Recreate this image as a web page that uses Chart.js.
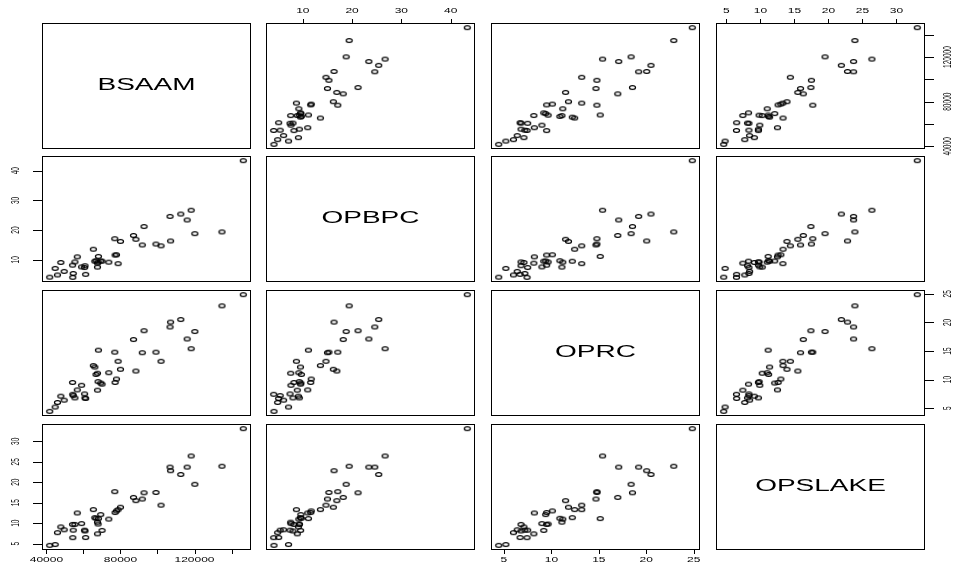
<!DOCTYPE html>
<html>
<head>
<meta charset="utf-8">
<title>pairs</title>
<script src="https://cdn.jsdelivr.net/npm/chart.js@4.4.1/dist/chart.umd.min.js"></script>
<style>
html, body { margin: 0; padding: 0; background: #fff; overflow: hidden; }
#wrap { position: relative; width: 955px; height: 568px; }
#wrap canvas { position: absolute; }
</style>
</head>
<body>
<div id="wrap"></div>
<script>
// water runoff variables, one entry per year
const varNames = ["BSAAM", "OPBPC", "OPRC", "OPSLAKE"];
const bsaam = [54235, 67567, 66161, 68094, 107080, 67594, 65356, 67909, 92715, 70024,
    99190, 146345, 134840, 120180, 118190, 116020, 112580, 106790, 101900, 91770,
    87060, 88330, 80000, 78730, 76920, 77830, 77100, 56650, 69320, 66800,
    73670, 59000, 47780, 49590, 54120, 55390, 54480, 60630, 60810, 45970,
    61180, 41785, 44700];
const opbpc = [4.10, 7.55, 9.52, 11.14, 16.34, 8.88, 13.57, 9.28, 21.20, 9.55,
    15.3, 43.37, 19.4, 18.8, 26.7, 23.4, 25.4, 24.6, 14.7, 15.0,
    18.2, 16.9, 16.2, 8.7, 17.1, 11.7, 11.6, 11.0, 9.6, 9.7,
    9.2, 7.6, 9.1, 6.1, 8.2, 9.3, 5.4, 7.4, 8.0, 4.9,
    5.1, 4.15, 7.1];
const oprc = [7.43, 11.11, 12.20, 15.15, 20.05, 8.15, 12.45, 9.65, 18.55, 9.20,
    14.8, 24.85, 22.9, 18.4, 15.4, 17.1, 20.5, 19.2, 13.2, 14.7,
    17.0, 11.5, 11.8, 13.2, 14.8, 10.1, 9.5, 8.2, 9.4, 10.9,
    11.2, 9.0, 7.1, 6.4, 9.5, 6.8, 7.2, 7.5, 6.8, 6.0,
    6.7, 4.45, 5.2];
const opslake = [6.47, 10.26, 11.35, 11.13, 22.81, 7.41, 13.32, 9.80, 17.42, 8.25,
    17.5, 33.07, 23.9, 19.5, 26.4, 23.7, 21.9, 23.7, 14.4, 15.9,
    16.3, 15.5, 13.9, 13.3, 17.7, 13.0, 12.6, 12.5, 12.1, 11.2,
    11.0, 9.9, 9.1, 8.4, 9.7, 9.7, 8.3, 8.3, 8.1, 7.7,
    6.5, 4.6, 4.8];

// axis ticks and which of them carry a label
const ticksBSAAM = [40000, 60000, 80000, 100000, 120000, 140000];
const labelsBSAAM = [40000, 80000, 120000];
const ticksOPBPC = [10, 20, 30, 40];
const ticksOPRC = [5, 10, 15, 20, 25];
const ticksOPSLAKE = [5, 10, 15, 20, 25, 30];

const columns = [bsaam, opbpc, oprc, opslake];
const tickSets = [ticksBSAAM, ticksOPBPC, ticksOPRC, ticksOPSLAKE];
const labelSets = [labelsBSAAM, ticksOPBPC, ticksOPRC, ticksOPSLAKE];

// panel grid
const colLeft = [42, 266, 491, 716];
const rowTop = [23, 156, 290, 424];
const W = 209, H = 126, PAD = 45;
const SQ = 0.57;
const FONT = '"Liberation Sans", Arial, Helvetica, sans-serif';

function limits(arr){
    const lo = Math.min(...arr), hi = Math.max(...arr), r = hi - lo;
    return [lo - 0.04 * r, hi + 0.04 * r];
}
const lims = columns.map(limits);

// open ring used for every point
const ring = document.createElement('canvas');
ring.width = 9; ring.height = 7;
(function(){
    const c = ring.getContext('2d');
    c.strokeStyle = '#000';
    c.lineWidth = 1.25;
    c.beginPath();
    c.ellipse(4.5, 3.5, 3.0, 1.9, 0, 0, Math.PI * 2);
    c.stroke();
})();

function squashText(ctx, txt, x, y, size, vertical){
    ctx.save();
    ctx.translate(x, y);
    ctx.scale(1, SQ);
    if (vertical) ctx.rotate(-Math.PI / 2);
    ctx.font = size + 'px ' + FONT;
    ctx.textAlign = 'center';
    ctx.textBaseline = 'middle';
    ctx.fillStyle = '#000';
    ctx.fillText(txt, 0, 0);
    ctx.restore();
}

function drawAxis(chart, side, v){
    const ctx = chart.ctx, a = chart.chartArea;
    const horiz = side === 'top' || side === 'bottom';
    const scale = horiz ? chart.scales.x : chart.scales.y;
    ctx.save();
    ctx.strokeStyle = '#000';
    ctx.lineWidth = 1;
    tickSets[v].forEach(t => {
        const p = Math.round(scale.getPixelForValue(t)) + 0.5;
        ctx.beginPath();
        if (side === 'top') { ctx.moveTo(p, a.top); ctx.lineTo(p, a.top - 4); }
        if (side === 'bottom') { ctx.moveTo(p, a.bottom); ctx.lineTo(p, a.bottom + 4); }
        if (side === 'left') { ctx.moveTo(a.left, p); ctx.lineTo(a.left - 9, p); }
        if (side === 'right') { ctx.moveTo(a.right, p); ctx.lineTo(a.right + 9, p); }
        ctx.stroke();
    });
    ctx.restore();
    labelSets[v].forEach(t => {
        const p = scale.getPixelForValue(t);
        if (side === 'top') squashText(ctx, String(t), p, a.top - 12, 12, false);
        if (side === 'bottom') squashText(ctx, String(t), p, a.bottom + 10, 12, false);
        if (side === 'left') squashText(ctx, String(t), a.left - 26, p, 11.5, true);
        if (side === 'right') squashText(ctx, String(t), a.right + 23, p, 11.5, true);
    });
}

function frame(row, col){
    return {
        id: 'frame',
        afterDraw(chart){
            const ctx = chart.ctx, a = chart.chartArea;
            ctx.save();
            ctx.strokeStyle = '#000';
            ctx.lineWidth = 1;
            ctx.strokeRect(a.left + 0.5, a.top + 0.5, a.right - a.left - 1, a.bottom - a.top - 1);
            ctx.restore();
            if (row === col) {
                squashText(ctx, varNames[row], (a.left + a.right) / 2, (a.top + a.bottom) / 2, 28, false);
            }
            if (row === 0 && col % 2 === 1) drawAxis(chart, 'top', col);
            if (row === 3 && col % 2 === 0) drawAxis(chart, 'bottom', col);
            if (col === 0 && row % 2 === 1) drawAxis(chart, 'left', row);
            if (col === 3 && row % 2 === 0) drawAxis(chart, 'right', row);
        }
    };
}

const wrap = document.getElementById('wrap');
for (let row = 0; row < 4; row++) {
    for (let col = 0; col < 4; col++) {
        const cv = document.createElement('canvas');
        cv.width = W + 2 * PAD;
        cv.height = H + 2 * PAD;
        cv.style.left = (colLeft[col] - PAD) + 'px';
        cv.style.top = (rowTop[row] - PAD) + 'px';
        wrap.appendChild(cv);

        const xs = columns[col], ys = columns[row];
        const pts = xs.map((x, k) => ({ x: x, y: ys[k] }));
        const datasets = row === col ? [] : [{
            data: pts,
            pointStyle: ring,
            pointRadius: 3,
            borderColor: '#000',
            backgroundColor: 'rgba(0,0,0,0)'
        }];

        new Chart(cv.getContext('2d'), {
            type: 'scatter',
            data: { datasets: datasets },
            options: {
                responsive: false,
                animation: false,
                events: [],
                devicePixelRatio: 1,
                layout: { padding: PAD },
                plugins: { legend: { display: false }, tooltip: { enabled: false } },
                scales: {
                    x: { type: 'linear', display: false, min: lims[col][0], max: lims[col][1] },
                    y: { type: 'linear', display: false, min: lims[row][0], max: lims[row][1] }
                }
            },
            plugins: [frame(row, col)]
        });
    }
}
</script>
</body>
</html>
